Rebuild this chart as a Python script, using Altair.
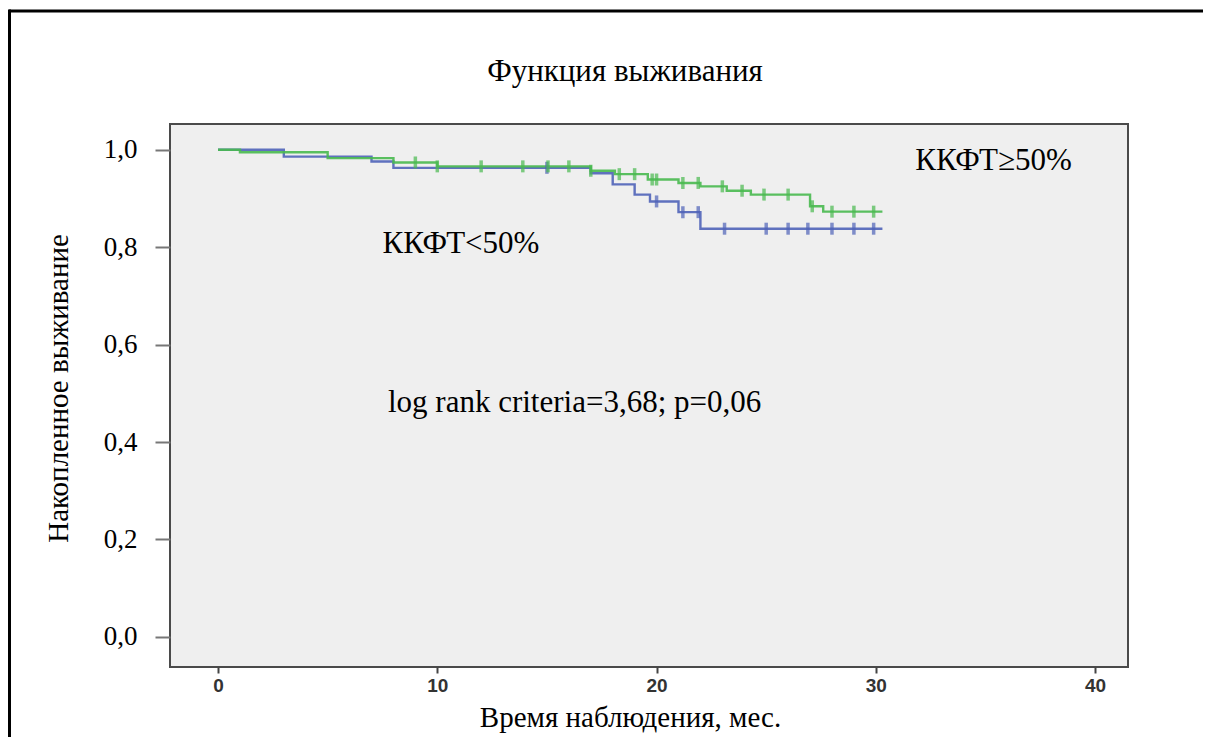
import altair as alt
import pandas as pd

# ---- data ----
blue_times = [0, 3, 7, 8, 17, 18, 19, 19.7, 21, 22, 30.3]
blue_surv = [1.0, 0.986, 0.976, 0.963, 0.952, 0.929, 0.908, 0.894, 0.872, 0.838, 0.838]
blue_censor = [15, 20, 21.2, 21.9, 23.1, 25.0, 26.0, 26.9, 28.0, 29.0, 29.9]

green_times = [0, 1, 5, 8, 10, 17, 18.1, 19.6, 21, 22, 23.2, 24.3, 27.0, 27.6, 30.3]
green_surv = [1.0, 0.995, 0.983, 0.974, 0.966, 0.957, 0.950, 0.939, 0.932, 0.925,
              0.916, 0.908, 0.884, 0.873, 0.873]
green_censor = [9.0, 10.0, 12.0, 13.9, 15.05, 16.0, 17.0, 18.3, 19.0, 19.8, 20.0, 21.2,
                21.9, 23.0, 23.9, 24.9, 26.0, 27.1, 28.0, 29.0, 29.9]

group_names = ["ККФТ<50%", "ККФТ≥50%"]
group_colors = ["#4f63b8", "#48b94f"]
censor_colors = ["#3048b0", "#2aab3c"]

x_ticks = [0, 10, 20, 30, 40]
y_ticks = [0.0, 0.2, 0.4, 0.6, 0.8, 1.0]

ann_text = ["ККФТ≥50%", "ККФТ<50%", "log rank criteria=3,68; p=0,06"]
ann_x = [31.8, 7.5, 7.75]
ann_y = [0.977, 0.807, 0.480]


def step_value(times, surv, t):
    v = surv[0]
    for ti, si in zip(times, surv):
        if ti <= t:
            v = si
    return v


rows = []
for name, ts, ss in [(group_names[0], blue_times, blue_surv), (group_names[1], green_times, green_surv)]:
    for t, s in zip(ts, ss):
        rows.append({"group": name, "t": t, "s": s})
curves = pd.DataFrame(rows)

crows = []
for name, ts, ss, cs in [(group_names[0], blue_times, blue_surv, blue_censor),
                         (group_names[1], green_times, green_surv, green_censor)]:
    for c in cs:
        crows.append({"group": name, "t": c, "s": step_value(ts, ss, c)})
censor = pd.DataFrame(crows)

ann = pd.DataFrame({"text": ann_text, "x": ann_x, "y": ann_y})

W, H = 958, 543
xscale = alt.Scale(domain=[-2.19, 41.5], nice=False, zero=False)
yscale = alt.Scale(domain=[-0.062, 1.053], nice=False, zero=False)

xaxis = alt.Axis(
    values=x_ticks, format="d", grid=False, domain=False,
    tickSize=6, tickWidth=2, tickColor="#444",
    labelFont="Liberation Sans", labelFontSize=19, labelFontWeight="bold", labelColor="#333",
    labelPadding=3,
    title="Время наблюдения, мес.", titleFont="Liberation Serif", titleFontSize=29,
    titleFontWeight="normal", titleColor="#000",
    titleX=460, titleY=50, titleBaseline="middle", titleAlign="center",
)
yaxis = alt.Axis(
    values=y_ticks, grid=False, domain=False,
    labelExpr="replace(format(datum.value, '.1f'), '.', ',')",
    tickSize=15, tickWidth=2, tickColor="#777",
    labelFont="Liberation Serif", labelFontSize=27, labelColor="#000",
    labelPadding=18,
    title="Накопленное выживание", titleFont="Liberation Serif", titleFontSize=29,
    titleFontWeight="normal", titleColor="#000",
    titleX=-112, titleY=264, titleBaseline="middle", titleAlign="center", titleAngle=270,
)

color_scale = alt.Scale(domain=group_names, range=group_colors)
ccolor_scale = alt.Scale(domain=group_names, range=censor_colors)

lines = alt.Chart(curves).mark_line(interpolate="step-after", strokeWidth=2.4, opacity=0.9).encode(
    x=alt.X("t:Q", scale=xscale, axis=xaxis),
    y=alt.Y("s:Q", scale=yscale, axis=yaxis),
    color=alt.Color("group:N", scale=color_scale, legend=None),
    detail="group:N",
)

ticks = alt.Chart(censor).mark_tick(orient="vertical", size=12, thickness=3.5).encode(
    x=alt.X("t:Q", scale=xscale),
    y=alt.Y("s:Q", scale=yscale),
    color=alt.Color("group:N", scale=ccolor_scale, legend=None),
)

labels = alt.Chart(ann).mark_text(
    align="left", baseline="middle", font="Liberation Serif", fontSize=31, color="#000"
).encode(
    x=alt.X("x:Q", scale=xscale),
    y=alt.Y("y:Q", scale=yscale),
    text="text:N",
)

title_df = pd.DataFrame({"text": ["Функция выживания"]})
title = alt.Chart(title_df).mark_text(
    align="center", baseline="middle", font="Liberation Serif", fontSize=31, color="#000"
).encode(x=alt.value(455), y=alt.value(-52), text="text:N")

frame_top = alt.Chart(title_df).mark_rule(color="#000", strokeWidth=3).encode(
    x=alt.value(-161), x2=alt.value(1040), y=alt.value(-113)
)
frame_left = alt.Chart(title_df).mark_rule(color="#000", strokeWidth=3).encode(
    x=alt.value(-160.5), y=alt.value(-114.5), y2=alt.value(640)
)

chart = alt.layer(frame_top, frame_left, title, lines, ticks, labels).properties(
    width=W, height=H,
    background="#ffffff",
    autosize=alt.AutoSizeParams(type="none"),
    padding={"left": 162, "top": 116, "right": 75, "bottom": 70},
).configure_view(
    fill="#efefef", stroke="#4a4a4a", strokeWidth=2
)

chart.save("out.html", embed_options={"renderer": "svg", "actions": False})
